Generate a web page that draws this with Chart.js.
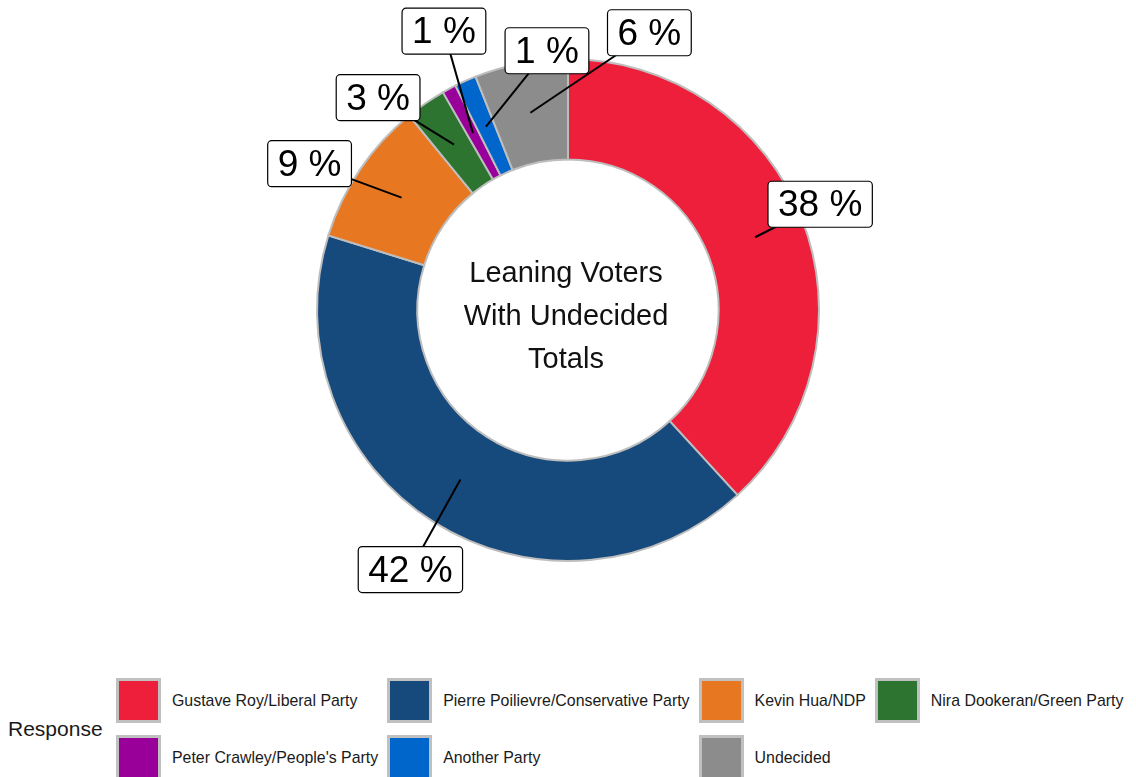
<!DOCTYPE html>
<html>
<head>
<meta charset="utf-8">
<script src="https://cdn.jsdelivr.net/npm/chart.js@4/dist/chart.umd.min.js"></script>
<style>
  html, body { margin: 0; padding: 0; background: #fff; }
  body { width: 1136px; height: 777px; position: relative; overflow: hidden;
         font-family: "Liberation Sans", Arial, sans-serif; }
  #wrap { position: absolute; left: 0; top: 0; width: 1136px; height: 620px; }
  #legend-title { position: absolute; left: 8px; top: 717px; font-size: 21px; color: #1a1a1a; }
  #legend { position: absolute; left: 116px; top: 678px;
            display: grid; grid-template-columns: repeat(4, auto); row-gap: 12px; }
  .item { display: flex; align-items: center; padding-right: 9px; height: 45px; }
  .swatch { width: 45px; height: 45px; box-sizing: border-box; border: 3px solid #c0c0c0; }
  .item span { margin-left: 11px; font-size: 15.9px; color: #1a1a1a; white-space: nowrap; }
</style>
</head>
<body>
<div id="wrap"><canvas id="chart" width="1136" height="620"></canvas></div>
<div id="legend-title">Response</div>
<div id="legend"></div>
<script>
const responses = [
    'Gustave Roy/Liberal Party',
    'Pierre Poilievre/Conservative Party',
    'Kevin Hua/NDP',
    'Nira Dookeran/Green Party',
    "Peter Crawley/People's Party",
    'Another Party',
    'Undecided',
];
const shares = [38.2, 41.6, 9.3, 2.6, 0.9, 1.4, 6.0];
const colors = ['#ed1f3a', '#174a7c', '#e87722', '#2e7431', '#990099', '#0066cc', '#8c8c8c'];
const centerLines = ['Leaning Voters', 'With Undecided', 'Totals'];

// where each callout box sits, relative to its slice anchor (px)
const labelNudge = [[65, -33], [-50, 90], [-92, -34], [-76, -47], [-29, -102], [61, -76], [119, -80]];

// legend order: fill rows of four
const legendEl = document.getElementById('legend');
responses.forEach((name, i) => {
    const item = document.createElement('div');
    item.className = 'item';
    item.innerHTML = `<div class="swatch" style="background:${colors[i]}"></div><span>${name}</span>`;
    legendEl.appendChild(item);
});

function roundRect(ctx, x, y, w, h, r) {
    ctx.beginPath();
    ctx.moveTo(x + r, y);
    ctx.lineTo(x + w - r, y);
    ctx.arcTo(x + w, y, x + w, y + r, r);
    ctx.lineTo(x + w, y + h - r);
    ctx.arcTo(x + w, y + h, x + w - r, y + h, r);
    ctx.lineTo(x + r, y + h);
    ctx.arcTo(x, y + h, x, y + h - r, r);
    ctx.lineTo(x, y + r);
    ctx.arcTo(x, y, x + r, y, r);
    ctx.closePath();
}

const calloutPlugin = {
    id: 'callouts',
    afterDraw(chart) {
        const ctx = chart.ctx;
        const arcs = chart.getDatasetMeta(0).data;
        if (!arcs.length) return;
        const cx = arcs[0].x, cy = arcs[0].y;

        // centre title
        ctx.save();
        ctx.fillStyle = '#111';
        ctx.font = '29px "Liberation Sans", Arial, sans-serif';
        ctx.textAlign = 'center';
        ctx.textBaseline = 'middle';
        centerLines.forEach((line, i) => {
            ctx.fillText(line, cx - 2, cy - 36 + i * 43);
        });

        ctx.font = '37px "Liberation Sans", Arial, sans-serif';
        arcs.forEach((arc, i) => {
            const mid = (arc.startAngle + arc.endAngle) / 2;
            const r = (arc.innerRadius + arc.outerRadius) / 2;
            const ax = cx + Math.cos(mid) * r;
            const ay = cy + Math.sin(mid) * r;
            const bx = ax + labelNudge[i][0];
            const by = ay + labelNudge[i][1];
            const text = Math.round(shares[i]) + ' %';
            const w = ctx.measureText(text).width + 20;
            const h = 46;

            ctx.strokeStyle = '#000';
            ctx.lineWidth = 2;
            ctx.beginPath();
            ctx.moveTo(ax, ay);
            ctx.lineTo(bx, by);
            ctx.stroke();

            roundRect(ctx, bx - w / 2, by - h / 2, w, h, 4);
            ctx.fillStyle = '#fff';
            ctx.fill();
            ctx.lineWidth = 1.2;
            ctx.stroke();
            ctx.fillStyle = '#000';
            ctx.fillText(text, bx, by + 2);
        });
        ctx.restore();
    },
};

new Chart(document.getElementById('chart'), {
    type: 'doughnut',
    data: {
        labels: responses,
        datasets: [{
            data: shares,
            backgroundColor: colors,
            borderColor: '#bebebe',
            borderWidth: 2,
            borderJoinStyle: 'miter',
        }],
    },
    options: {
        responsive: false,
        animation: false,
        cutout: '60%',
        layout: { padding: { top: 58, bottom: 58 } },
        plugins: {
            legend: { display: false },
            tooltip: { enabled: false },
        },
    },
    plugins: [calloutPlugin],
});
</script>
</body>
</html>
